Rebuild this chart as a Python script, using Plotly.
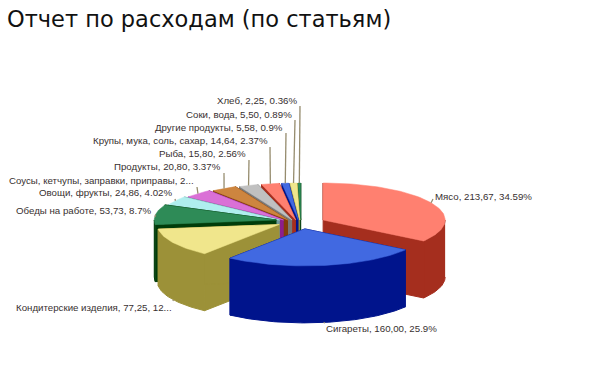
import math
import plotly.graph_objects as go

# --- data ---
categories = ["Мясо", "Сигареты", "Кондитерские изделия", "Обеды на работе",
              "Овощи, фрукты", "Соусы, кетчупы, заправки, приправы", "Продукты",
              "Рыба", "Крупы, мука, соль, сахар", "Другие продукты", "Соки, вода", "Хлеб"]
values = [213.67, 160.00, 77.25, 53.73, 24.86, 23.60, 20.80, 15.80, 14.64, 5.58, 5.50, 2.25]
label_texts = ["Мясо, 213,67, 34.59%", "Сигареты, 160,00, 25.9%",
               "Кондитерские изделия, 77,25, 12...", "Обеды на работе, 53,73, 8.7%",
               "Овощи, фрукты, 24,86, 4.02%", "Соусы, кетчупы, заправки, приправы, 2...",
               "Продукты, 20,80, 3.37%", "Рыба, 15,80, 2.56%",
               "Крупы, мука, соль, сахар, 14,64, 2.37%", "Другие продукты, 5,58, 0.9%",
               "Соки, вода, 5,50, 0.89%", "Хлеб, 2,25, 0.36%"]
title_text = "Отчет по расходам (по статьям)"

# --- style ---
top_colors = ["#FF8070", "#4169E1", "#F0E68C", "#2E8B57", "#AFEEEE", "#DA70D6",
              "#CD853F", "#C0C0C0", "#FF8070", "#4169E1", "#F0E68C", "#2E8B57"]
side_colors = ["#A52E1E", "#00148C", "#9C9138", "#003C0A", "#6E9A9A", "#8C1E8C",
               "#823C0A", "#787878", "#A52E1E", "#00148C", "#9C9138", "#003C0A"]
# (anchor side, x, y of the label, leader end x, y)
label_layout = [("left", 435, 196, 433, 199), ("left", 326, 328, 325, 323),
                ("right", 172, 307, 173, 301), ("right", 152, 210, 155, 217),
                ("right", 172, 192, 175, 199), ("right", 194, 180, 197, 187),
                ("right", 221, 166, 224, 173), ("right", 246, 153, 249, 160),
                ("right", 268, 140, 270, 147), ("right", 283, 127, 286, 133),
                ("right", 292, 114, 295, 120), ("right", 297, 100, 300, 106)]
CX, CY = 301, 220      # centre of pie on page
RX, RY = 122, 37       # ellipse radii
EX, EY = 25, 9         # explode offsets
DEPTH = 57
FONT = "Liberation Sans"

total = sum(values)
slices = []
acc = 0.0
for i, v in enumerate(values):
    a0 = acc / total * 2 * math.pi
    acc += v
    a1 = acc / total * 2 * math.pi
    mid = (a0 + a1) / 2
    ax = CX + EX * math.sin(mid)
    ay = CY + EY * max(0.0, -math.cos(mid))
    slices.append(dict(i=i, a0=a0, a1=a1, mid=mid, ax=ax, ay=ay))


def rim(s, angle):
    return (s["ax"] + RX * math.sin(angle), s["ay"] - RY * math.cos(angle))


def arc_points(s, a0, a1):
    n = max(3, int((a1 - a0) * 40))
    return [rim(s, a0 + (a1 - a0) * k / n) for k in range(n + 1)]


fig = go.Figure()


def poly(points, color, width=0.5):
    fig.add_trace(go.Scatter(x=[p[0] for p in points], y=[p[1] for p in points],
                             mode="lines", fill="toself", fillcolor=color,
                             line=dict(color=color, width=width), hoverinfo="skip",
                             showlegend=False))


def down(points):
    return [(x, y + DEPTH) for x, y in points]


# painter's order: back slices first, the large front ones last
order = list(range(11, 3, -1)) + [3, 0, 2, 1]
for i in order:
    s = slices[i]
    apex = (s["ax"], s["ay"])
    side = side_colors[i]
    # radial cut faces
    for ang in (s["a0"], s["a1"]):
        p = rim(s, ang)
        poly([apex, p, (p[0], p[1] + DEPTH), (apex[0], apex[1] + DEPTH)], side, 1)
    # outer wall: only the part that faces the viewer
    w0 = max(s["a0"], math.pi / 2)
    w1 = min(s["a1"], 3 * math.pi / 2)
    if w1 > w0:
        arc = arc_points(s, w0, w1)
        poly(arc + down(arc)[::-1], side, 1)
    poly([apex] + arc_points(s, s["a0"], s["a1"]) + [apex], top_colors[i])

# leader lines: from the rim of each slice to its label
for s, lay in zip(slices, label_layout):
    rx, ry = rim(s, s["mid"])
    if math.cos(s["mid"]) < 0:
        ry += DEPTH
    fig.add_trace(go.Scatter(x=[rx, lay[3]], y=[ry, lay[4]], mode="lines",
                             line=dict(color="#968C6E", width=1.3), hoverinfo="skip",
                             showlegend=False))

annotations = [dict(x=lay[1], y=lay[2], text=t, showarrow=False, xanchor=lay[0], yanchor="middle",
                    xshift=(2 if lay[0] == "right" else -2),
                    font=dict(family=FONT, size=9.7, color="#383030"))
               for t, lay in zip(label_texts, label_layout)]
annotations.append(dict(x=5, y=19, text=title_text, showarrow=False, xanchor="left",
                        yanchor="middle",
                        font=dict(family="DejaVu Sans", size=22.5, color="#111111")))

fig.update_layout(width=600, height=370,
                  margin=dict(l=0, r=0, t=0, b=0),
                  paper_bgcolor="white", plot_bgcolor="white", annotations=annotations,
                  xaxis=dict(range=[0, 600], visible=False, fixedrange=True),
                  yaxis=dict(range=[370, 0], visible=False, fixedrange=True))
fig.write_html("out.html", config=dict(displayModeBar=False),
               post_script="document.body.style.margin='0';document.body.style.overflow='hidden';")
